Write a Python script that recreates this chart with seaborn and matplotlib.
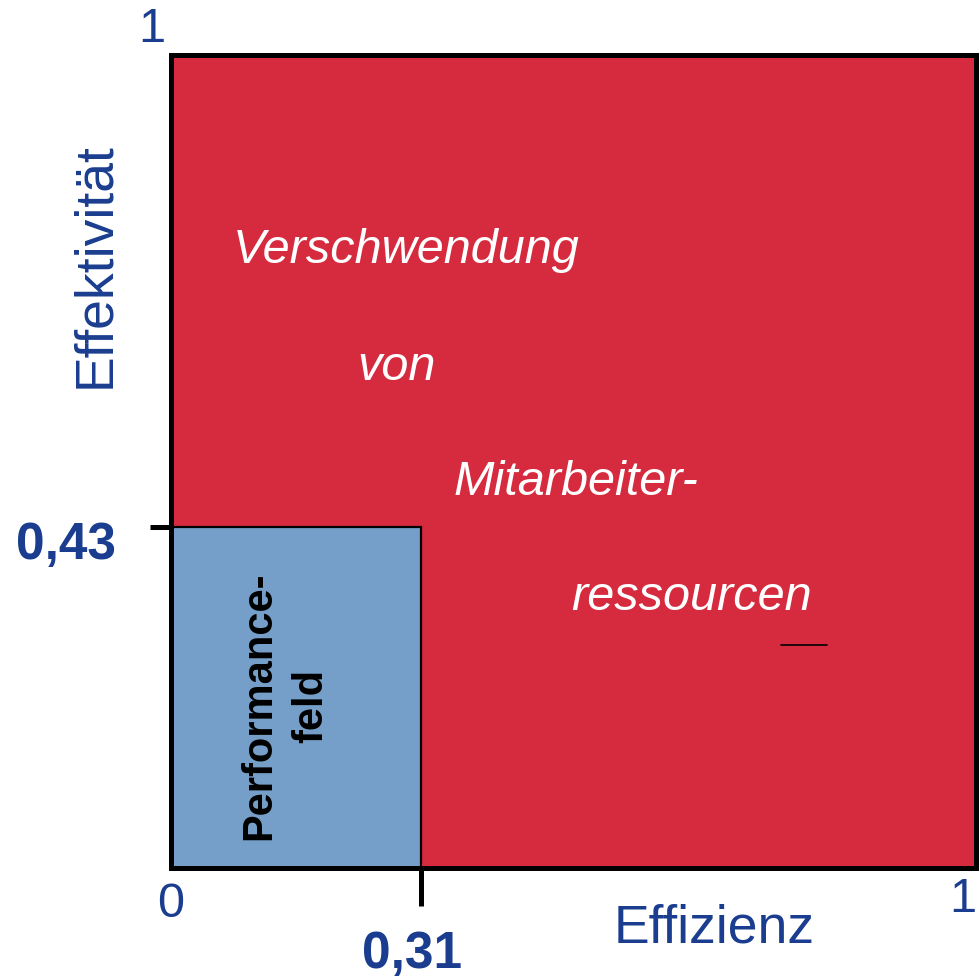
import matplotlib
matplotlib.use("Agg")
import matplotlib.pyplot as plt
import seaborn as sns

# ---- data ----
efficiency_threshold = 0.31
effectiveness_threshold = 0.43
axis_max = 1
x_label = "Effizienz"
y_label = "Effektivität"
field_label = "Performance-\nfeld"
waste_lines = ["Verschwendung", "von", "Mitarbeiter-", "ressourcen"]
tick_zero = "0"
tick_one = "1"
tick_x = "0,31"
tick_y = "0,43"

sns.set_theme(style="white")
plt.rcParams['font.family'] = ['Liberation Sans', 'DejaVu Sans']

RED = "#D62B3E"
BLUE = "#759FC8"
NAVY = "#1A3D8F"

fig = plt.figure(figsize=(9.8, 9.8), dpi=100)
ax = fig.add_axes([0.1745, 0.1143, 0.8215, 0.8296])
ax.set_xlim(0, axis_max)
ax.set_ylim(0, axis_max * 1.025)

# red background field
ax.bar([0], [axis_max * 1.025], width=axis_max, align="edge", color=RED, edgecolor="none", zorder=1)
# blue performance field
ax.bar([0], [effectiveness_threshold], width=efficiency_threshold, align="edge",
       color=BLUE, edgecolor="black", linewidth=1.6, zorder=2)

for s in ax.spines.values():
    s.set_visible(True)
    s.set_color("black")
    s.set_linewidth(3.6)
    s.set_zorder(5)

ax.set_xticks([efficiency_threshold])
ax.set_yticks([effectiveness_threshold])
ax.set_xticklabels([])
ax.set_yticklabels([])
ax.tick_params(axis="x", direction="out", length=27, width=3.6, color="black", bottom=True)
ax.tick_params(axis="y", direction="out", length=15, width=3.6, color="black", left=True)

T = ax.transAxes
# tick labels
ax.text(-0.001, -0.045, tick_zero, color=NAVY, fontsize=35, ha="center", va="center", transform=T, clip_on=False)
ax.text(0.984, -0.039, tick_one, color=NAVY, fontsize=35, ha="center", va="center", transform=T, clip_on=False)
ax.text(-0.024, 1.031, tick_one, color=NAVY, fontsize=35, ha="center", va="center", transform=T, clip_on=False)
ax.text(0.299, -0.107, tick_x, color=NAVY, fontsize=37, fontweight="bold", ha="center", va="center", transform=T, clip_on=False)
ax.text(-0.131, 0.397, tick_y, color=NAVY, fontsize=37, fontweight="bold", ha="center", va="center", transform=T, clip_on=False)

# axis labels
ax.text(0.674, -0.074, x_label, color=NAVY, fontsize=38.5, ha="center", va="center", transform=T, clip_on=False)
ax.text(-0.094, 0.742, y_label, color=NAVY, fontsize=38.5, ha="center", va="center", rotation=90, transform=T, clip_on=False)

# waste text
positions = [(0.292, 0.760), (0.280, 0.616), (0.503, 0.474), (0.646, 0.333)]
for (x, y), t in zip(positions, waste_lines):
    ax.text(x, y, t, color="white", fontsize=35, fontstyle="italic", ha="center", va="center", transform=T, zorder=4)

# performance field label
ax.text(0.142, 0.199, field_label, color="black", fontsize=30, fontweight="bold",
        rotation=90, ha="center", va="center", multialignment="center", linespacing=1.4,
        transform=T, zorder=4)

# small stray line
ax.plot([0.758, 0.815], [0.274, 0.274], color="black", linewidth=1.2, transform=T, zorder=4)

fig.savefig("out.png", dpi=100, facecolor="white")
